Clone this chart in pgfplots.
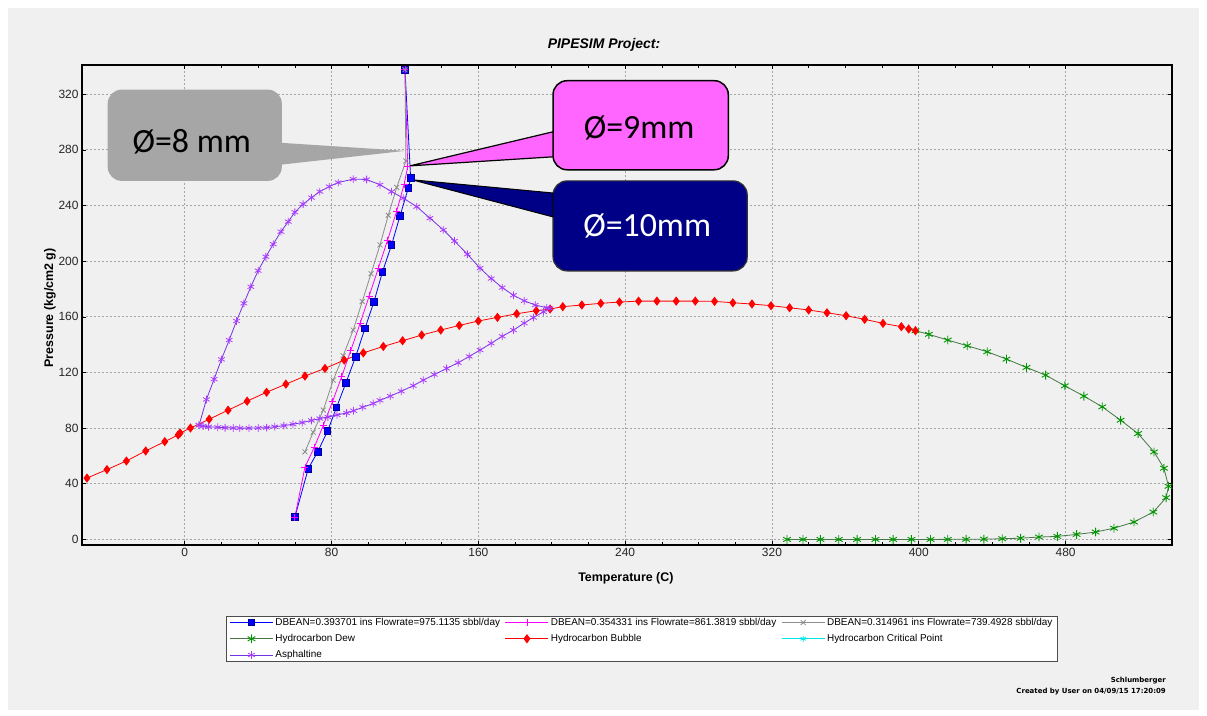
\documentclass[border=0pt]{standalone}
\usepackage{fontspec}
\setmainfont{Liberation Sans}
\newfontfamily\calloutfont{Carlito}
\newfontfamily\stampfont{DejaVu Sans}
\usepackage{pgfplots}
\pgfplotsset{compat=1.18}
\definecolor{panel}{RGB}{240,240,240}
\definecolor{cblue}{RGB}{0,0,255}
\definecolor{cmag}{RGB}{255,0,255}
\definecolor{cgray}{RGB}{140,140,140}
\definecolor{cred}{RGB}{255,0,0}
\definecolor{cgreenm}{RGB}{0,150,0}
\definecolor{cgreenl}{RGB}{70,120,70}
\definecolor{casph}{RGB}{120,50,230}
\definecolor{casphm}{RGB}{170,60,255}
\definecolor{ccyan}{RGB}{0,230,230}
\definecolor{boxgray}{RGB}{166,166,166}
\definecolor{boxmag}{RGB}{255,102,255}
\definecolor{boxnavy}{RGB}{0,0,135}
\begin{document}
\begin{tikzpicture}
\useasboundingbox (0,0) rectangle (1207bp,716bp);
\fill[white] (0,0) rectangle (1207bp,716bp);
\fill[panel] (8bp,6bp) rectangle (1199bp,708bp);
\begin{axis}[
  at={(82bp,171bp)}, anchor=south west,
  width=1090bp, height=480bp, scale only axis,
  xmin=-56, xmax=538, ymin=-4, ymax=341,
  xtick={0,80,...,480}, ytick={0,40,...,320},
  minor x tick num=3,
  tick align=inside,
  major tick length=4bp, minor tick length=3bp,
  grid=major,
  major grid style={gray!70, line width=0.9bp, dash pattern=on 1.5bp off 2.5bp},
  axis line style={black, line width=1.4bp},
  every tick/.style={black, line width=0.6bp},
  /pgf/number format/assume math mode=true,
  tick label style={font=\fontsize{12}{14}\selectfont, text=black!85},
  xlabel={Temperature (C)},
  ylabel={Pressure (kg/cm2 g)},
  label style={font=\bfseries\fontsize{12.5}{14}\selectfont},
  xlabel style={at={(axis description cs:0.499,-0.069)}, anchor=center},
  ylabel style={at={(axis description cs:-0.0294,0.494)}, anchor=center},
  legend columns=3,
  legend cell align=left,
  legend style={at={(0.5138,-0.148)}, anchor=north, draw=gray!60!black, fill=white,
    font=\fontsize{10}{12}\selectfont, inner xsep=3bp, inner ysep=0bp, row sep=3.5bp,
    /tikz/every even column/.append style={column sep=3bp}},
  legend image code/.code={\draw[mark repeat=2,mark phase=2,#1] plot coordinates {(0bp,0bp) (21.5bp,0bp) (43bp,0bp)};},
]
% DBEAN 0.393701 (10 mm)
\addplot[cblue, line width=0.8bp, mark=square*, mark size=3.3bp, mark options={fill=cblue, draw=cblue!60!black}] coordinates {
(60,16) (67.3,50.9) (72.4,62.9) (77.8,77.8) (82.7,94.8) (87.8,112.5) (93.1,131.2) (98.2,151.7) (103.1,170.8) (107.8,192.5) (112.7,211.7) (117.3,232.5) (121.8,252.5) (123.1,259.7) (120,337.6)};
\addlegendentry{DBEAN=0.393701 ins Flowrate=975.1135 sbbl/day}
% DBEAN 0.354331 (9 mm)
\addplot[cmag, line width=0.8bp, mark=+, mark size=3.5bp] coordinates {
(60,16) (65.5,52) (70.5,66) (75.5,82) (80.5,99) (85.5,117) (90.5,136) (95.5,155) (100.5,175) (105.5,195) (110.5,215) (115.5,236) (119.5,255) (121.5,268) (120,337.6)};
\addlegendentry{DBEAN=0.354331 ins Flowrate=861.3819 sbbl/day}
% DBEAN 0.314961 (8 mm)
\addplot[cgray, line width=0.8bp, mark=x, mark size=3.5bp] coordinates {
(65.5,63) (70,77) (75.5,93) (80.9,114.5) (86.3,132) (91.8,150.5) (96.7,171) (101.5,191) (106.4,211.7) (110.9,233) (115.5,253) (120.5,272) (120,337.6)};
\addlegendentry{DBEAN=0.314961 ins Flowrate=739.4928 sbbl/day}
% Hydrocarbon Dew
\addplot[cgreenl, line width=0.8bp, mark=asterisk, mark size=4.4bp, mark options={cgreenm, line width=0.9bp}] coordinates {
(398.2,150) (405.5,147.4) (415.8,143.3) (426.4,139.2) (437.3,134.9) (447.8,129.6) (458.7,123.6) (469.1,118.1) (479.6,110.4) (490,103) (500,95.3) (510,85.7) (519.5,76.1) (528.2,62.9) (533.6,51.2) (536.1,38.2) (534.8,30) (527.8,19.7) (517.3,12.5) (506.4,8.1) (496.4,5.3) (486,3.6) (475.5,2.2) (465.5,1.7) (455.5,0.9) (445.5,0.5) (435.5,0.2) (425.8,0.1) (415.8,0.05) (406.4,0) (396,0) (386,0) (376.4,0) (366.4,0) (356.4,0) (346.4,0) (336.9,0) (328.2,0)};
\addlegendentry{Hydrocarbon Dew}
% Hydrocarbon Bubble
\addplot[cred, line width=0.8bp, mark=diamond*, mark size=4bp, mark options={fill=cred, draw=cred}] coordinates {
(-53.3,44.1) (-42.4,50.2) (-31.8,56.4) (-21.3,63.6) (-10.9,70.3) (-3.6,75.1) (-2.5,76.5) (3.1,80.1) (13.3,86.4) (23.6,92.9) (34,99.4) (44.6,105.8) (55.1,111.6) (65.5,117.4) (76.4,122.9) (86.9,128.9) (97.3,134.1) (108.2,138.7) (118.7,142.8) (129.1,146.9) (139.5,150.5) (149.6,153.8) (160,157) (170.4,159.6) (180.9,162.2) (191.5,164.4) (199.1,165.6) (206,167.3) (216.4,168.5) (226.7,169.7) (236.9,170.6) (247.3,171.3) (257.3,171.3) (267.8,171.3) (278.2,171.3) (288.7,171.1) (298.7,170.1) (309.1,169.2) (319.5,168) (329.6,166.5) (340,164.9) (350,162.9) (360.4,160.8) (370.5,158.2) (380.5,155.3) (390.5,152.9) (394.5,151.2) (398.2,150)};
\addlegendentry{Hydrocarbon Bubble}
\addlegendimage{ccyan, line width=0.8bp, mark=asterisk, mark size=3bp}
\addlegendentry{Hydrocarbon Critical Point}
% Asphaltine
\addplot[casph, line width=0.8bp, mark=asterisk, mark size=3.8bp, mark options={casphm, line width=0.8bp}] coordinates {
(7.8,82.1) (11.8,100.6) (16,115.2) (20,129.4) (24.2,143.3) (28.2,157) (32.2,169.7) (36,181.6) (40,193.2) (44.2,203.2) (48.2,212.2) (52.4,221.2) (56.4,228.4) (60,235.2) (64.5,241) (69.1,245.7) (73.6,250) (78.7,253.6) (83.6,256.5) (91.8,259) (99.1,258.7) (106.4,254.9) (112.7,250) (119.1,245.3) (126.4,239.2) (133.6,230.9) (140.9,222.5) (147,214.5) (154,205) (160.9,195) (167,187.5) (173,181) (179.1,175.5) (185,171.5) (191,168.5) (197.3,166.5) (199,166)
(195.5,163.6) (190,159.5) (185,155.5) (179.1,150.5) (173,146) (167,141) (160.9,136.1) (155,131.5) (149,127) (142.7,122.9) (136,118.5) (130,114.5) (124.5,110.5) (118,106.5) (112,103) (106.4,100) (102.7,97.7) (97,95) (92,92.5) (88.2,90.9) (83,89.5) (78,88) (73.6,86.9) (69,85.5) (64,84) (59,82.8) (54,81.8) (49,81) (44.6,80.4) (40,80.1) (35,80) (30,80) (26.4,80.1) (22,80.3) (18,80.6) (13,81) (10,81.5) (7.8,82.1)};
\addlegendentry{Asphaltine}
% callouts
\fill[boxgray, rounded corners=14bp] (-42,257.7) rectangle (52.9,323.3);
\fill[boxgray] (52,285.1) -- (120,279.3) -- (52,269.3) -- cycle;
\node[font=\calloutfont\fontsize{34}{36}\selectfont, text=black] at (3.8,285.8) {Ø=8 mm};
\draw[fill=boxmag, draw=black, line width=1.5bp, rounded corners=14bp] (200.7,265.7) rectangle (296.2,329.7);
\draw[fill=boxmag, draw=black, line width=1.2bp, line join=miter] (200.7,293) -- (122.7,268.5) -- (200.7,275) -- cycle;
\node[font=\calloutfont\fontsize{34}{36}\selectfont, text=black] at (247.6,295.9) {Ø=9mm};
\draw[fill=boxnavy, draw=black!80, line width=1.2bp, rounded corners=14bp] (200.7,193) rectangle (306.5,257.7);
\draw[fill=boxnavy, draw=black, line width=1bp] (200.7,249) -- (123.8,258.5) -- (200.7,231.8) -- cycle;
\node[font=\calloutfont\fontsize{34}{36}\selectfont, text=white] at (252,225.3) {Ø=10mm};
\end{axis}
\node[font=\bfseries\itshape\fontsize{14}{16}\selectfont] at (604bp,671bp) {PIPESIM Project:};
\node[anchor=east, font=\stampfont\bfseries\fontsize{7}{9}\selectfont, inner sep=0pt] at (1166bp,35bp) {Schlumberger};
\node[anchor=east, font=\stampfont\bfseries\fontsize{7}{9}\selectfont, inner sep=0pt] at (1166bp,24bp) {Created by User on 04/09/15 17:20:09};
\end{tikzpicture}
\end{document}
